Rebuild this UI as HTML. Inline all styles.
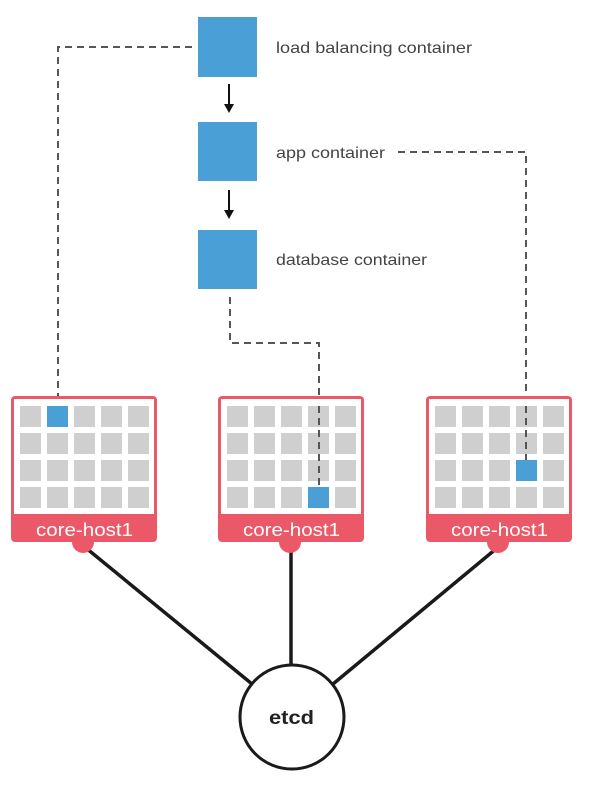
<!DOCTYPE html>
<html><head><style>
html,body{margin:0;padding:0;background:#fff;}
svg{display:block;}
</style></head><body>
<svg width="614" height="800" viewBox="0 0 614 800" xmlns="http://www.w3.org/2000/svg">
<g fill="none" stroke="#555" stroke-width="2" stroke-dasharray="7,5">
<path d="M192 47 H58 V410"/>
<path d="M398 152 H526 V464"/>
<path d="M230 297 V343 H319 V490"/>
</g>
<rect x="198" y="17" width="59" height="60" fill="#4aa0d6"/>
<rect x="198" y="122" width="59" height="59" fill="#4aa0d6"/>
<rect x="198" y="230" width="59" height="59" fill="#4aa0d6"/>
<g stroke="#111" stroke-width="2"><line x1="229" y1="84" x2="229" y2="106"/><line x1="229" y1="190" x2="229" y2="212"/></g>
<polygon points="224,104 234,104 229,113" fill="#111"/>
<polygon points="224,210 234,210 229,219" fill="#111"/>
<g font-family="Liberation Sans, sans-serif" font-size="16" fill="#444" lengthAdjust="spacingAndGlyphs">
<text x="276" y="53" textLength="196" lengthAdjust="spacingAndGlyphs">load balancing container</text>
<text x="276" y="158" textLength="109" lengthAdjust="spacingAndGlyphs">app container</text>
<text x="276" y="265" textLength="151" lengthAdjust="spacingAndGlyphs">database container</text>
</g>
<g stroke="#1a1a1a" stroke-width="3.5">
<line x1="86" y1="548" x2="252" y2="684"/>
<line x1="291" y1="548" x2="291" y2="664"/>
<line x1="497" y1="548" x2="333" y2="684"/>
</g>
<circle cx="292" cy="717" r="52" fill="#fff" stroke="#1a1a1a" stroke-width="3"/>
<text x="269" y="724" textLength="45" lengthAdjust="spacingAndGlyphs" font-family="Liberation Sans, sans-serif" font-weight="bold" font-size="19" fill="#222">etcd</text>
<defs>
<g id="host">
<circle cx="72" cy="146" r="11" fill="#eb5868"/>
<rect x="0" y="0" width="146" height="146" rx="4" fill="#eb5868"/>
<rect x="3" y="3" width="140" height="115" fill="#fff"/>
</g>
</defs>
<g transform="translate(11,396)"><use href="#host"/></g>
<g transform="translate(218,396)"><use href="#host"/></g>
<g transform="translate(426,396)"><use href="#host"/></g>
<g fill="#cfcfcf">
<g id="grid">
<rect x="20" y="406" width="21" height="21"/><rect x="47" y="406" width="21" height="21"/><rect x="74" y="406" width="21" height="21"/><rect x="101" y="406" width="21" height="21"/><rect x="128" y="406" width="21" height="21"/>
<rect x="20" y="433" width="21" height="21"/><rect x="47" y="433" width="21" height="21"/><rect x="74" y="433" width="21" height="21"/><rect x="101" y="433" width="21" height="21"/><rect x="128" y="433" width="21" height="21"/>
<rect x="20" y="460" width="21" height="21"/><rect x="47" y="460" width="21" height="21"/><rect x="74" y="460" width="21" height="21"/><rect x="101" y="460" width="21" height="21"/><rect x="128" y="460" width="21" height="21"/>
<rect x="20" y="487" width="21" height="21"/><rect x="47" y="487" width="21" height="21"/><rect x="74" y="487" width="21" height="21"/><rect x="101" y="487" width="21" height="21"/><rect x="128" y="487" width="21" height="21"/>
</g>
<use href="#grid" x="207"/>
<use href="#grid" x="415"/>
</g>
<rect x="47" y="406" width="21" height="21" fill="#4aa0d6"/>
<rect x="308" y="487" width="21" height="21" fill="#4aa0d6"/>
<rect x="516" y="460" width="21" height="21" fill="#4aa0d6"/>
<g stroke="#555" stroke-width="2" stroke-dasharray="7,5">
<line x1="319" y1="406" x2="319" y2="487"/>
<line x1="526" y1="406" x2="526" y2="460"/>
</g>
<g font-family="Liberation Sans, sans-serif" font-size="18" fill="#fff">
<text x="36" y="536" textLength="97" lengthAdjust="spacingAndGlyphs">core-host1</text>
<text x="243" y="536" textLength="97" lengthAdjust="spacingAndGlyphs">core-host1</text>
<text x="451" y="536" textLength="97" lengthAdjust="spacingAndGlyphs">core-host1</text>
</g>
</svg>
</body></html>
